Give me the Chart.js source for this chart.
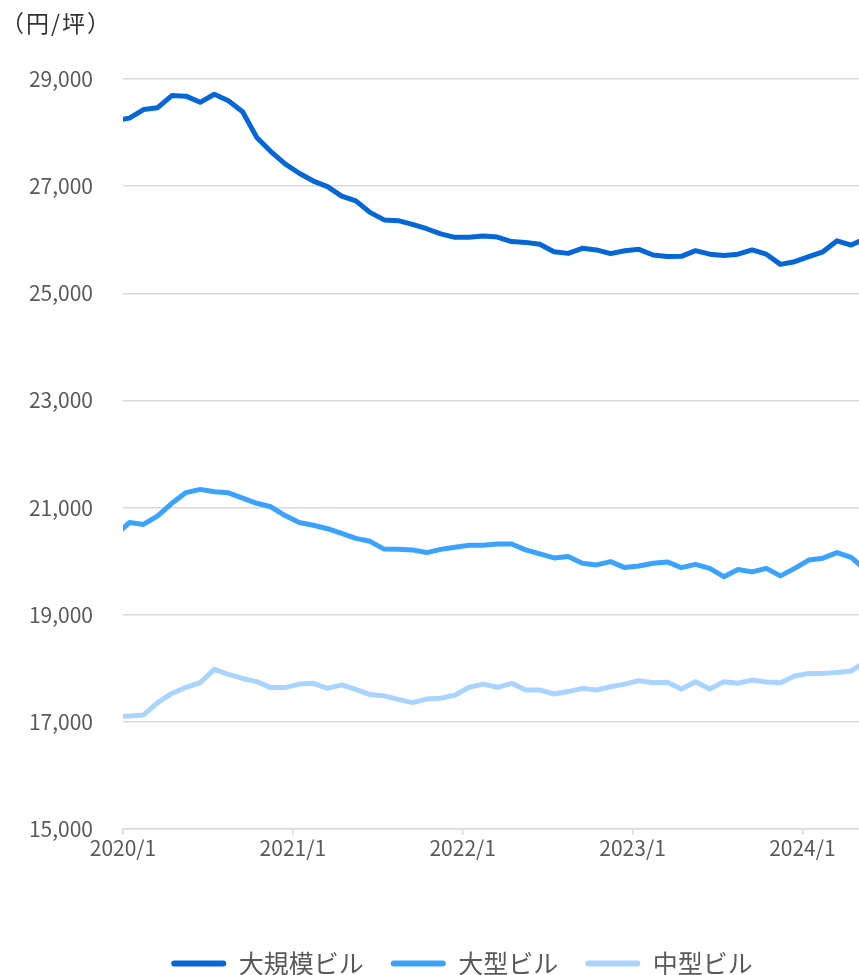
<!DOCTYPE html>
<html lang="ja">
<head>
<meta charset="utf-8">
<title>オフィス賃料の推移</title>
<script src="https://cdn.jsdelivr.net/npm/chart.js@4.4.1/dist/chart.umd.min.js"></script>
<style>
  html, body { margin: 0; padding: 0; background: #fff; }
  #frame { position: relative; width: 859px; height: 975px; overflow: hidden; }
  #box { position: absolute; left: 0; top: 0; width: 859px; height: 986px; }
  #unit {
    position: absolute; left: 1px; top: 7px;
    font: 23px/30px "Noto Sans CJK JP", sans-serif; letter-spacing: 2px; color: #333;
  }
</style>
</head>
<body>
<div id="frame">
  <div id="box"><canvas id="chart"></canvas></div>
  <div id="unit">（円/坪）</div>
</div>
<script>
// Monthly asking rents (円/坪), 2019/12 – 2024/5
const months = [
  '2019/12',
  '2020/1','2020/2','2020/3','2020/4','2020/5','2020/6','2020/7','2020/8','2020/9','2020/10','2020/11','2020/12',
  '2021/1','2021/2','2021/3','2021/4','2021/5','2021/6','2021/7','2021/8','2021/9','2021/10','2021/11','2021/12',
  '2022/1','2022/2','2022/3','2022/4','2022/5','2022/6','2022/7','2022/8','2022/9','2022/10','2022/11','2022/12',
  '2023/1','2023/2','2023/3','2023/4','2023/5','2023/6','2023/7','2023/8','2023/9','2023/10','2023/11','2023/12',
  '2024/1','2024/2','2024/3','2024/4','2024/5'
];

const largeScaleBldg = [
  28220,
  28270, 28430, 28465, 28690, 28680, 28565, 28715, 28595, 28390, 27910, 27645, 27415,
  27240, 27095, 26990, 26815, 26725, 26510, 26370, 26355, 26285, 26205, 26110, 26045,
  26045, 26070, 26050, 25965, 25950, 25915, 25775, 25745, 25840, 25810, 25740, 25795,
  25820, 25715, 25685, 25690, 25795, 25730, 25705, 25730, 25810, 25730, 25540, 25590,
  25685, 25775, 25980, 25900, 26020
];

const largeBldg = [
  20480,
  20720, 20685, 20845, 21080, 21280, 21340, 21295, 21275, 21175, 21080, 21015, 20850,
  20720, 20670, 20605, 20520, 20425, 20370, 20225, 20220, 20210, 20160, 20220, 20260,
  20295, 20295, 20320, 20320, 20210, 20135, 20060, 20085, 19960, 19930, 19990, 19880,
  19910, 19960, 19985, 19880, 19940, 19865, 19710, 19845, 19800, 19865, 19725, 19865,
  20020, 20055, 20160, 20070, 19840
];

const midBldg = [
  17100,
  17110, 17130, 17360, 17530, 17645, 17730, 17980, 17885, 17810, 17750, 17640, 17640,
  17705, 17720, 17625, 17690, 17605, 17510, 17485, 17420, 17360, 17425, 17440, 17500,
  17645, 17705, 17645, 17720, 17595, 17595, 17520, 17565, 17625, 17595, 17655, 17705,
  17770, 17730, 17740, 17615, 17750, 17615, 17750, 17720, 17780, 17745, 17730, 17855,
  17905, 17905, 17920, 17950, 18120
];

const seriesNames = ['大規模ビル', '大型ビル', '中型ビル'];
const seriesColors = ['#0567d6', '#3ba3ff', '#a9d4ff'];

const tickLabels = ['2020/1', '2021/1', '2022/1', '2023/1', '2024/1'];
const axisStart = '2020/1';
const axisEnd = '2024/5';

const yMin = 15000, yMax = 29000, yStep = 2000;

// month label -> months elapsed since 2020/1 (start of month)
function monthIndex(label) {
  const [y, m] = label.split('/').map(Number);
  return (y - 2020) * 12 + (m - 1);
}
// each monthly value is dated mid-month
const MID_MONTH = 0.45;

function toPoints(values) {
  return months.map((lbl, i) => ({ x: monthIndex(lbl) + MID_MONTH, y: values[i] }));
}

const FONT = '"Noto Sans CJK JP", "Noto Sans", sans-serif';
const GRID = '#d9d9d9';
const TEXT = '#595959';

const datasets = [largeScaleBldg, largeBldg, midBldg].map((vals, k) => ({
  label: seriesNames[k],
  data: toPoints(vals),
  borderColor: seriesColors[k],
  backgroundColor: seriesColors[k],
  borderWidth: 5,
  borderJoinStyle: 'round',
  borderCapStyle: 'round',
  pointRadius: 0,
  pointHoverRadius: 0,
  tension: 0
}));

// the legend row sits a little right of the canvas centre
const legendShift = {
  id: 'legendShift',
  afterLayout(chart) {
    if (chart.legend) chart.legend.left += 65;
  }
};

new Chart(document.getElementById('chart'), {
  type: 'line',
  data: { datasets },
  plugins: [legendShift],
  options: {
    responsive: true,
    maintainAspectRatio: false,
    animation: false,
    events: [],
    layout: { padding: { top: 79, left: 0, right: 0, bottom: 0 } },
    scales: {
      x: {
        type: 'linear',
        min: monthIndex(axisStart),
        max: monthIndex(axisEnd),
        afterBuildTicks(axis) {
          axis.ticks = tickLabels.map(t => ({ value: monthIndex(t) }));
        },
        afterFit(axis) { axis.height = 95; },
        ticks: {
          autoSkip: false,
          maxRotation: 0,
          padding: 0,
          color: TEXT,
          font: { family: FONT, size: 21 },
          callback(value) {
            const hit = tickLabels.find(t => monthIndex(t) === value);
            return hit || '';
          }
        },
        grid: {
          display: true,
          drawOnChartArea: false,
          drawTicks: true,
          tickLength: 6,
          color: GRID,
          lineWidth: 1.5
        },
        border: { display: true, color: GRID, width: 1.5 }
      },
      y: {
        min: yMin,
        max: yMax,
        afterFit(axis) { axis.width = 123; },
        ticks: {
          stepSize: yStep,
          padding: 30,
          color: TEXT,
          font: { family: FONT, size: 21 },
          callback(value) { return value.toLocaleString('en-US'); }
        },
        grid: { color: GRID, lineWidth: 1.5, drawTicks: false },
        border: { display: false }
      }
    },
    plugins: {
      tooltip: { enabled: false },
      legend: {
        position: 'bottom',
        align: 'center',
        labels: {
          boxWidth: 55,
          boxHeight: 6,
          padding: 27,
          useBorderRadius: true,
          borderRadius: 3,
          color: TEXT,
          font: { family: FONT, size: 25 },
          generateLabels(chart) {
            return Chart.defaults.plugins.legend.labels.generateLabels(chart).map(item => ({
              ...item,
              fillStyle: item.strokeStyle,
              lineWidth: 0
            }));
          }
        }
      }
    }
  }
});
</script>
</body>
</html>
